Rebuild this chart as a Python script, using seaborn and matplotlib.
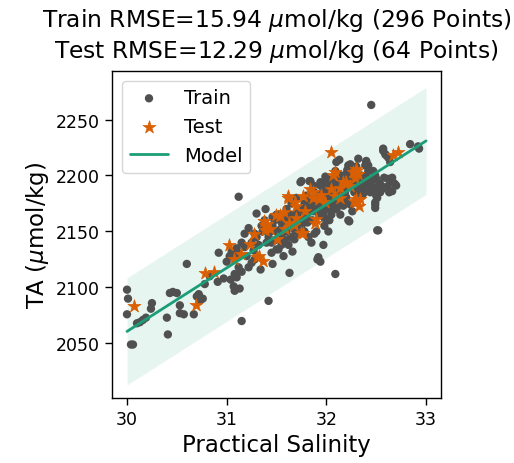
import matplotlib
matplotlib.use("Agg")
import matplotlib.pyplot as plt
import seaborn as sns
import pandas as pd
import numpy as np

sns.set_style("ticks")
plt.rcParams["font.family"] = ["DejaVu Sans"]
plt.rcParams["mathtext.fontset"] = "dejavusans"
for key in ("text.color", "axes.labelcolor", "xtick.color", "ytick.color"):
    plt.rcParams[key] = "black"

# Training samples: practical salinity and total alkalinity (umol/kg)
train_sal = [
    30.00, 30.01, 30.00, 30.04, 30.06, 30.25, 30.24, 30.13, 30.16, 30.19,
    30.40, 30.41, 30.43, 30.46, 30.50, 30.53, 30.53, 30.57, 30.67, 30.70,
    30.73, 30.76, 30.78, 30.83, 30.91, 30.97, 30.60, 30.92, 30.72, 30.10,
    31.00, 31.08, 31.07, 31.13, 31.15, 31.22, 31.34, 31.46, 31.12, 31.30,
    31.39, 31.46, 31.22, 31.18, 31.04, 31.08, 31.10, 31.03, 31.05, 31.08,
    31.10, 31.12, 31.15, 31.18, 31.20, 31.25, 31.27, 31.28, 31.30, 31.32,
    31.35, 31.36, 31.25, 31.28, 31.12, 31.15,
    31.42, 31.63, 31.57, 31.68, 31.58, 31.52, 31.50, 31.45, 31.40, 31.42,
    31.44, 31.46, 31.48, 31.50, 31.52, 31.54, 31.55, 31.56, 31.58, 31.60,
    31.60, 31.62, 31.63, 31.64, 31.65, 31.66, 31.68, 31.70, 31.70, 31.72,
    31.74, 31.75, 31.73, 31.55, 31.48, 31.38, 31.62, 31.66,
    31.75, 31.80, 31.83, 31.84, 31.87, 31.94, 31.94, 31.97, 31.99, 31.97,
    31.92, 31.94, 31.91, 31.97, 31.97, 31.78, 31.80, 31.82, 31.85, 31.86,
    31.88, 31.90, 31.90, 31.92, 31.93, 31.95, 31.96, 31.98, 32.00, 32.00,
    32.02, 32.03, 32.04, 32.05, 32.06, 32.08, 32.09, 32.09, 32.10, 32.10,
    31.78, 31.82, 31.85, 31.88, 32.02,
    32.12, 32.13, 32.15, 32.17, 32.10, 32.21, 32.22, 32.21, 32.24, 32.27,
    32.22, 32.23, 32.24, 32.32, 32.37, 32.35, 32.40, 32.42, 32.40, 32.39,
    32.42, 32.40, 32.15, 32.18, 32.20, 32.25, 32.28, 32.30, 32.33, 32.35,
    32.38, 32.14, 32.18, 32.26, 32.12, 32.20, 32.30,
    32.47, 32.49, 32.45, 32.50, 32.52, 32.54, 32.50, 32.49, 32.49, 32.49,
    32.55, 32.57, 32.60, 32.62, 32.59, 32.57, 32.64, 32.62, 32.64, 32.68,
    32.69, 32.70, 32.63, 32.66, 32.84, 32.92, 32.93, 32.52, 32.51, 32.45,
    31.45, 31.50, 31.53, 31.57, 31.61, 31.64, 31.67, 31.69, 31.71, 31.74,
    31.76, 31.79, 31.81, 31.84, 31.87, 31.89, 31.91, 31.94, 31.97, 31.99,
    32.01, 32.03, 32.06, 32.08, 32.11, 32.13, 32.16, 32.19, 32.21, 32.23,
    32.26, 32.29, 32.31, 32.34, 32.36, 32.39, 32.41, 32.44, 32.46, 32.48,
    32.51, 32.53, 32.56, 32.58, 32.61, 32.66,
    31.96, 32.00, 32.04, 32.07, 32.11, 32.15, 32.19, 32.02, 32.06, 31.98,
]
train_ta = [
    2098, 2090, 2076, 2049, 2049, 2086, 2081, 2069, 2071, 2073,
    2073, 2058, 2095, 2096, 2095, 2084, 2077, 2076, 2076, 2092,
    2088, 2090, 2103, 2110, 2105, 2108, 2121, 2131, 2094, 2068,
    2123, 2097, 2101, 2099, 2070, 2118, 2116, 2121, 2181, 2166,
    2170, 2163, 2153, 2148, 2107, 2112, 2109, 2128, 2132, 2126,
    2135, 2130, 2140, 2136, 2128, 2140, 2133, 2148, 2145, 2138,
    2155, 2150, 2122, 2125, 2118, 2114,
    2088, 2113, 2128, 2143, 2142, 2134, 2134, 2131, 2140, 2145,
    2150, 2155, 2160, 2165, 2148, 2152, 2158, 2144, 2162, 2150,
    2170, 2155, 2160, 2145, 2175, 2165, 2152, 2160, 2180, 2170,
    2194, 2155, 2148, 2138, 2142, 2160, 2138, 2132,
    2195, 2164, 2195, 2195, 2191, 2191, 2194, 2192, 2199, 2138,
    2127, 2123, 2125, 2167, 2164, 2175, 2182, 2170, 2178, 2160,
    2185, 2172, 2150, 2180, 2165, 2175, 2185, 2155, 2170, 2180,
    2190, 2160, 2175, 2165, 2195, 2185, 2204, 2112, 2212, 2170,
    2150, 2145, 2140, 2148, 2150,
    2201, 2214, 2197, 2173, 2170, 2205, 2209, 2203, 2210, 2204,
    2160, 2159, 2174, 2215, 2195, 2189, 2212, 2209, 2213, 2209,
    2204, 2200, 2185, 2190, 2180, 2195, 2185, 2192, 2180, 2200,
    2185, 2165, 2178, 2168, 2192, 2195, 2208,
    2204, 2200, 2195, 2197, 2189, 2185, 2182, 2176, 2171, 2174,
    2191, 2224, 2218, 2216, 2219, 2222, 2212, 2197, 2194, 2193,
    2192, 2191, 2185, 2186, 2228, 2226, 2224, 2151, 2151, 2263,
    2140, 2150, 2145, 2150, 2158, 2164, 2158, 2150, 2165, 2160,
    2170, 2166, 2158, 2172, 2168, 2176, 2168, 2172, 2178, 2186,
    2175, 2182, 2178, 2190, 2182, 2188, 2193, 2186, 2190, 2198,
    2190, 2196, 2186, 2192, 2182, 2196, 2190, 2185, 2190, 2186,
    2180, 2193, 2188, 2198, 2190, 2198,
    2182, 2188, 2196, 2184, 2176, 2200, 2182, 2196, 2170, 2162,
]

# Held-out test samples
test_sal = [
    30.07, 30.69, 30.78, 30.87, 31.02, 31.07, 31.14, 31.23, 31.30, 31.36,
    31.37, 31.40, 31.49, 31.38, 32.05, 32.72, 32.67, 32.29, 32.30, 32.07,
    31.62, 31.69, 31.57, 31.53, 31.87, 31.93, 31.99, 32.05, 32.09, 32.17,
    32.24, 32.30, 32.33, 32.30, 32.32, 32.30, 32.34, 31.89, 31.75,
    31.62, 31.53, 31.38, 31.27, 31.32, 31.50, 31.63, 31.70, 31.58, 31.43,
    32.09, 32.27, 32.20, 32.14, 31.84, 31.77, 31.87, 31.95, 31.70, 31.79,
    31.90, 31.68, 31.77, 32.14, 32.28,
]
test_ta = [
    2083, 2084, 2113, 2114, 2138, 2125, 2130, 2139, 2127, 2124,
    2159, 2157, 2165, 2151, 2221, 2221, 2218, 2198, 2204, 2200,
    2182, 2176, 2167, 2164, 2185, 2179, 2176, 2188, 2182, 2194,
    2191, 2179, 2173, 2206, 2201, 2176, 2179, 2158, 2149,
    2180, 2165, 2156, 2148, 2128, 2143, 2158, 2162, 2152, 2152,
    2203, 2203, 2194, 2189, 2188, 2182, 2180, 2183, 2173, 2168,
    2161, 2156, 2149, 2180, 2177,
]

# Linear model fit and its +/- 3 RMSE envelope
model_sal = [30.0, 33.0]
model_ta = [2060.7, 2230.9]
band_halfwidth = 47.8

train_df = pd.DataFrame({"sal": train_sal, "ta": train_ta})
test_df = pd.DataFrame({"sal": test_sal, "ta": test_ta})
model_df = pd.DataFrame({"sal": model_sal, "ta": model_ta})

green = "#1b9e77"
orange = "#d95f02"
grey = "#505050"

fig = plt.figure(figsize=(5.14, 4.64), dpi=100)
ax = fig.add_axes([0.218, 0.140, 0.640, 0.705])

ax.fill_between(model_df["sal"], model_df["ta"] - band_halfwidth,
                model_df["ta"] + band_halfwidth, color=green, alpha=0.1,
                linewidth=0, zorder=1)
sns.scatterplot(data=train_df, x="sal", y="ta", ax=ax, color=grey, s=36,
                marker="o", edgecolor="none", label="Train", zorder=2)
sns.scatterplot(data=test_df, x="sal", y="ta", ax=ax, color=orange, s=95,
                marker="*", edgecolor=orange, linewidth=0.5, label="Test", zorder=3)
sns.lineplot(data=model_df, x="sal", y="ta", ax=ax, color=green, linewidth=2,
             label="Model", zorder=4)

ax.set_xlim(29.85, 33.15)
ax.set_ylim(2001.2, 2293.4)
ax.set_xticks([30, 31, 32, 33])
ax.set_yticks([2050, 2100, 2150, 2200, 2250])
ax.tick_params(labelsize=12.5, length=5, width=1, color="black")
for sp in ax.spines.values():
    sp.set_visible(True)
    sp.set_color("black")
    sp.set_linewidth(1)

ax.set_xlabel("Practical Salinity", fontsize=16.5)
ax.set_ylabel(r"TA ($\mu$mol/kg)", fontsize=16.5)
ax.set_title("Train RMSE=15.94 $\\mu$mol/kg (296 Points)\n"
             "Test RMSE=12.29 $\\mu$mol/kg (64 Points)", fontsize=16.8, pad=10)

leg = ax.legend(loc="upper left", fontsize=14, frameon=True)
leg.get_frame().set_edgecolor("#cccccc")

fig.savefig("out.png", dpi=100)
